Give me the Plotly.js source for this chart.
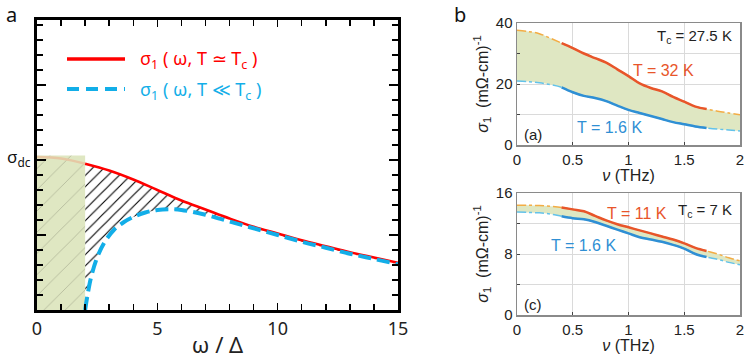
<!DOCTYPE html>
<html>
<head>
<meta charset="utf-8">
<script src="https://cdn.plot.ly/plotly-3.0.1.min.js"></script>
<style>html,body{margin:0;padding:0;background:#fff}</style>
</head>
<body>
<div id="fig" style="width:752px;height:360px"></div>
<script>
// panel a: schematic conductivity, omega in units of Delta
const omega = [0,1,2,3,4,5,6,7,8,9,10,11,12,13,14,15];
const sigmaNormal = [10.2,10.1,9.75,9.3,8.7,8.0,7.3,6.7,6.1,5.55,5.1,4.65,4.25,3.85,3.5,3.15];
const omegaSC = [2.0,2.1,2.25,2.5,2.8,3.2,3.6,4.0,4.5,5,5.5,6,7,8,9,10,11,12,13,14,15];
const sigmaSC = [0,1.0,2.2,3.5,4.5,5.35,5.85,6.2,6.5,6.67,6.72,6.67,6.35,5.9,5.45,5.0,4.55,4.15,3.75,3.4,3.05];
const gapEdge = 2;      // 2 Delta
const sigmaDC = 10.3;

// panel b: nu in THz
const nu = [0,0.1,0.2,0.3,0.4,0.5,0.6,0.7,0.8,0.9,1.0,1.1,1.2,1.3,1.4,1.5,1.6,1.7,1.8,1.9,2.0];
const measured = [0.35, 1.7];
const sigA_32K = [37.6,37.2,36.5,35.0,33.4,31.8,30.0,28.5,27.0,24.8,22.6,20.2,18.7,17.6,15.8,14.2,12.6,11.8,11.1,10.5,9.9];
const sigA_1p6K = [21.0,20.8,20.4,19.8,18.9,17.3,16.1,15.4,14.4,12.9,11.5,10.5,9.5,8.5,7.5,6.8,6.1,5.6,5.2,4.9,4.6];
const sigC_11K = [14.4,14.4,14.35,14.25,14.1,13.85,13.6,13.0,12.4,11.9,11.5,11.1,10.7,10.3,9.9,9.4,8.8,8.4,8.0,7.5,7.1];
const sigC_1p6K = [13.5,13.45,13.4,13.25,12.95,12.7,12.55,12.2,11.7,11.2,10.7,10.2,9.9,9.6,9.2,8.7,8.0,7.6,7.3,6.9,6.6];

const W = 752, H = 360;
const px = x => x / W;
const py = y => 1 - y / H;

const RED = '#ff0000', SKY = '#12aee8';
const GREEN = '#dfe7c2';
const ORANGE = '#e8552a', ORANGE_X = '#f3ad45';
const BLUE = '#2f8fd4', BLUE_X = '#63c2ea';

// --- panel a traces
const hatchX = omegaSC.concat(omega.filter(w => w >= gapEdge).reverse());
const hatchY = sigmaSC.concat(sigmaNormal.filter((_, i) => omega[i] >= gapEdge).reverse());

const traces = [
  {x: hatchX, y: hatchY, fill: 'toself', mode: 'none', fillcolor: 'white',
   fillpattern: {shape: '/', fgcolor: 'black', bgcolor: 'white', size: 8, solidity: 0.14},
   hoverinfo: 'skip', showlegend: false, xaxis: 'x', yaxis: 'y'},
  {x: [0, 0, gapEdge, gapEdge], y: [0, sigmaDC, sigmaDC, 0], fill: 'toself', mode: 'none',
   fillcolor: GREEN,
   fillpattern: {shape: '/', fgcolor: '#b5bb9c', bgcolor: GREEN, size: 15, solidity: 0.06},
   hoverinfo: 'skip', showlegend: false, xaxis: 'x', yaxis: 'y'},
  {x: omega.filter(w => w <= gapEdge), y: sigmaNormal.filter((_, i) => omega[i] <= gapEdge),
   mode: 'lines', line: {color: '#e6c8a4', width: 2.5, shape: 'spline'},
   showlegend: false, xaxis: 'x', yaxis: 'y'},
  {x: omega.filter(w => w >= gapEdge), y: sigmaNormal.filter((_, i) => omega[i] >= gapEdge),
   mode: 'lines', line: {color: RED, width: 2.5, shape: 'spline'},
   showlegend: false, xaxis: 'x', yaxis: 'y'},
  {x: omegaSC, y: sigmaSC, mode: 'lines',
   line: {color: SKY, width: 4, dash: '13px,6px', shape: 'spline'},
   showlegend: false, xaxis: 'x', yaxis: 'y'}
];

// --- panel b traces
function bPanel(xa, ya, lower, upper) {
  const inM = (_, i) => nu[i] >= measured[0] && nu[i] <= measured[1];
  return [
    {x: nu, y: lower, mode: 'lines', line: {color: BLUE_X, width: 1.5, dash: 'dashdot', shape: 'spline'},
     showlegend: false, xaxis: xa, yaxis: ya},
    {x: nu, y: upper, mode: 'lines', fill: 'tonexty', fillcolor: GREEN,
     line: {color: ORANGE_X, width: 1.5, dash: 'dashdot', shape: 'spline'},
     showlegend: false, xaxis: xa, yaxis: ya},
    {x: nu.filter(inM), y: upper.filter(inM), mode: 'lines',
     line: {color: ORANGE, width: 2.5, shape: 'spline'}, showlegend: false, xaxis: xa, yaxis: ya},
    {x: nu.filter(inM), y: lower.filter(inM), mode: 'lines',
     line: {color: BLUE, width: 2.5, shape: 'spline'}, showlegend: false, xaxis: xa, yaxis: ya}
  ];
}
traces.push(...bPanel('x2', 'y2', sigA_1p6K, sigA_32K));
traces.push(...bPanel('x3', 'y3', sigC_1p6K, sigC_11K));

const fontA = {family: 'Noto Sans, sans-serif', size: 18, color: '#222'};
const fontB = {family: 'Liberation Sans, Arial, sans-serif', size: 15, color: '#222'};

const axA = {
  showgrid: false, zeroline: false, showline: true, linecolor: 'black', linewidth: 3,
  mirror: 'allticks', ticks: 'inside', ticklen: 7, tickwidth: 1.5, tickcolor: 'black',
  fixedrange: true
};
const axB = {
  showgrid: true, gridcolor: '#dadada', gridwidth: 1, zeroline: false, showline: true,
  linecolor: '#8a8a8a', linewidth: 1.5, mirror: true, ticks: 'inside', ticklen: 3,
  tickcolor: '#444', tickfont: fontB, fixedrange: true
};
const nuTitle = {text: '<i>ν</i> (THz)', font: {family: fontB.family, size: 16, color: '#222'}, standoff: 1};
const sigTitle = {text: '<i>σ</i><sub>1</sub>  (mΩ-cm)<sup>-1</sup>', font: {family: fontB.family, size: 16, color: '#222'}, standoff: 3};

const layout = {
  width: W, height: H, margin: {l: 0, r: 0, t: 0, b: 0},
  paper_bgcolor: 'white', plot_bgcolor: 'white', showlegend: false,
  xaxis: Object.assign({}, axA, {
    domain: [px(37), px(398)], range: [0, 15], dtick: 5, tickfont: fontA,
    minor: {dtick: 1, ticks: 'inside', ticklen: 6, tickwidth: 1.5, tickcolor: 'black'},
    title: {text: 'ω / Δ', font: {family: fontA.family, size: 22, color: '#222'}, standoff: 0}
  }),
  yaxis: Object.assign({}, axA, {
    domain: [py(310), py(20)], range: [0, 19.33], dtick: 5, showticklabels: false, ticklen: 9,
    minor: {dtick: 1, ticks: 'inside', ticklen: 6, tickwidth: 1.5, tickcolor: 'black'}
  }),
  xaxis2: Object.assign({}, axB, {
    domain: [px(517), px(740)], range: [0, 2], dtick: 0.5, anchor: 'y2', title: nuTitle
  }),
  yaxis2: Object.assign({}, axB, {
    domain: [py(145), py(23)], range: [0, 40], tickvals: [0, 10, 20, 30, 40],
    ticktext: ['0', '', '20', '', '40'], anchor: 'x2', title: sigTitle
  }),
  xaxis3: Object.assign({}, axB, {
    domain: [px(517), px(740)], range: [0, 2], dtick: 0.5, anchor: 'y3', title: nuTitle
  }),
  yaxis3: Object.assign({}, axB, {
    domain: [py(315), py(193)], range: [0, 16], tickvals: [0, 4, 8, 12, 16],
    ticktext: ['0', '', '8', '', '16'], anchor: 'x3', title: sigTitle
  }),
  shapes: [
    {type: 'line', xref: 'paper', yref: 'paper', x0: px(67), x1: px(125), y0: py(59), y1: py(59),
     line: {color: RED, width: 3.5}},
    {type: 'line', xref: 'paper', yref: 'paper', x0: px(67), x1: px(125), y0: py(89), y1: py(89),
     line: {color: SKY, width: 4, dash: '12px,7px'}}
  ],
  annotations: [
    {text: 'a', x: px(4), y: py(15), xanchor: 'left', font: {family: fontA.family, size: 20, color: '#111'}},
    {text: 'b', x: px(452), y: py(15), xanchor: 'left', font: {family: fontA.family, size: 20, color: '#111'}},
    {text: 'σ<sub>dc</sub>', x: px(33), y: py(157), xanchor: 'right', font: {family: fontA.family, size: 17, color: '#111'}},
    {text: 'σ<sub>1</sub> ( ω, T ≃ T<sub>c</sub> )', x: px(138), y: py(60), xanchor: 'left',
     font: {family: fontA.family, size: 18, color: RED}},
    {text: 'σ<sub>1</sub> ( ω, T ≪ T<sub>c</sub> )', x: px(138), y: py(90), xanchor: 'left',
     font: {family: fontA.family, size: 18, color: SKY}},
    {text: 'T<sub>c</sub> = 27.5 K', x: px(734), y: py(37), xanchor: 'right', font: fontB},
    {text: 'T = 32 K', x: px(663), y: py(71), font: Object.assign({}, fontB, {size: 16, color: ORANGE})},
    {text: 'T = 1.6 K', x: px(609), y: py(127), font: Object.assign({}, fontB, {size: 16, color: BLUE})},
    {text: '(a)', x: px(522), y: py(134), xanchor: 'left', font: fontB},
    {text: 'T<sub>c</sub> = 7 K', x: px(734), y: py(210), xanchor: 'right', font: fontB},
    {text: 'T = 11 K', x: px(637), y: py(213), font: Object.assign({}, fontB, {size: 16, color: ORANGE})},
    {text: 'T = 1.6 K', x: px(583), y: py(245), font: Object.assign({}, fontB, {size: 16, color: BLUE})},
    {text: '(c)', x: px(522), y: py(304), xanchor: 'left', font: fontB}
  ].map(a => Object.assign({xref: 'paper', yref: 'paper', showarrow: false, xanchor: 'center', yanchor: 'middle'}, a))
};

Plotly.newPlot('fig', traces, layout, {staticPlot: true});
</script>
</body>
</html>
